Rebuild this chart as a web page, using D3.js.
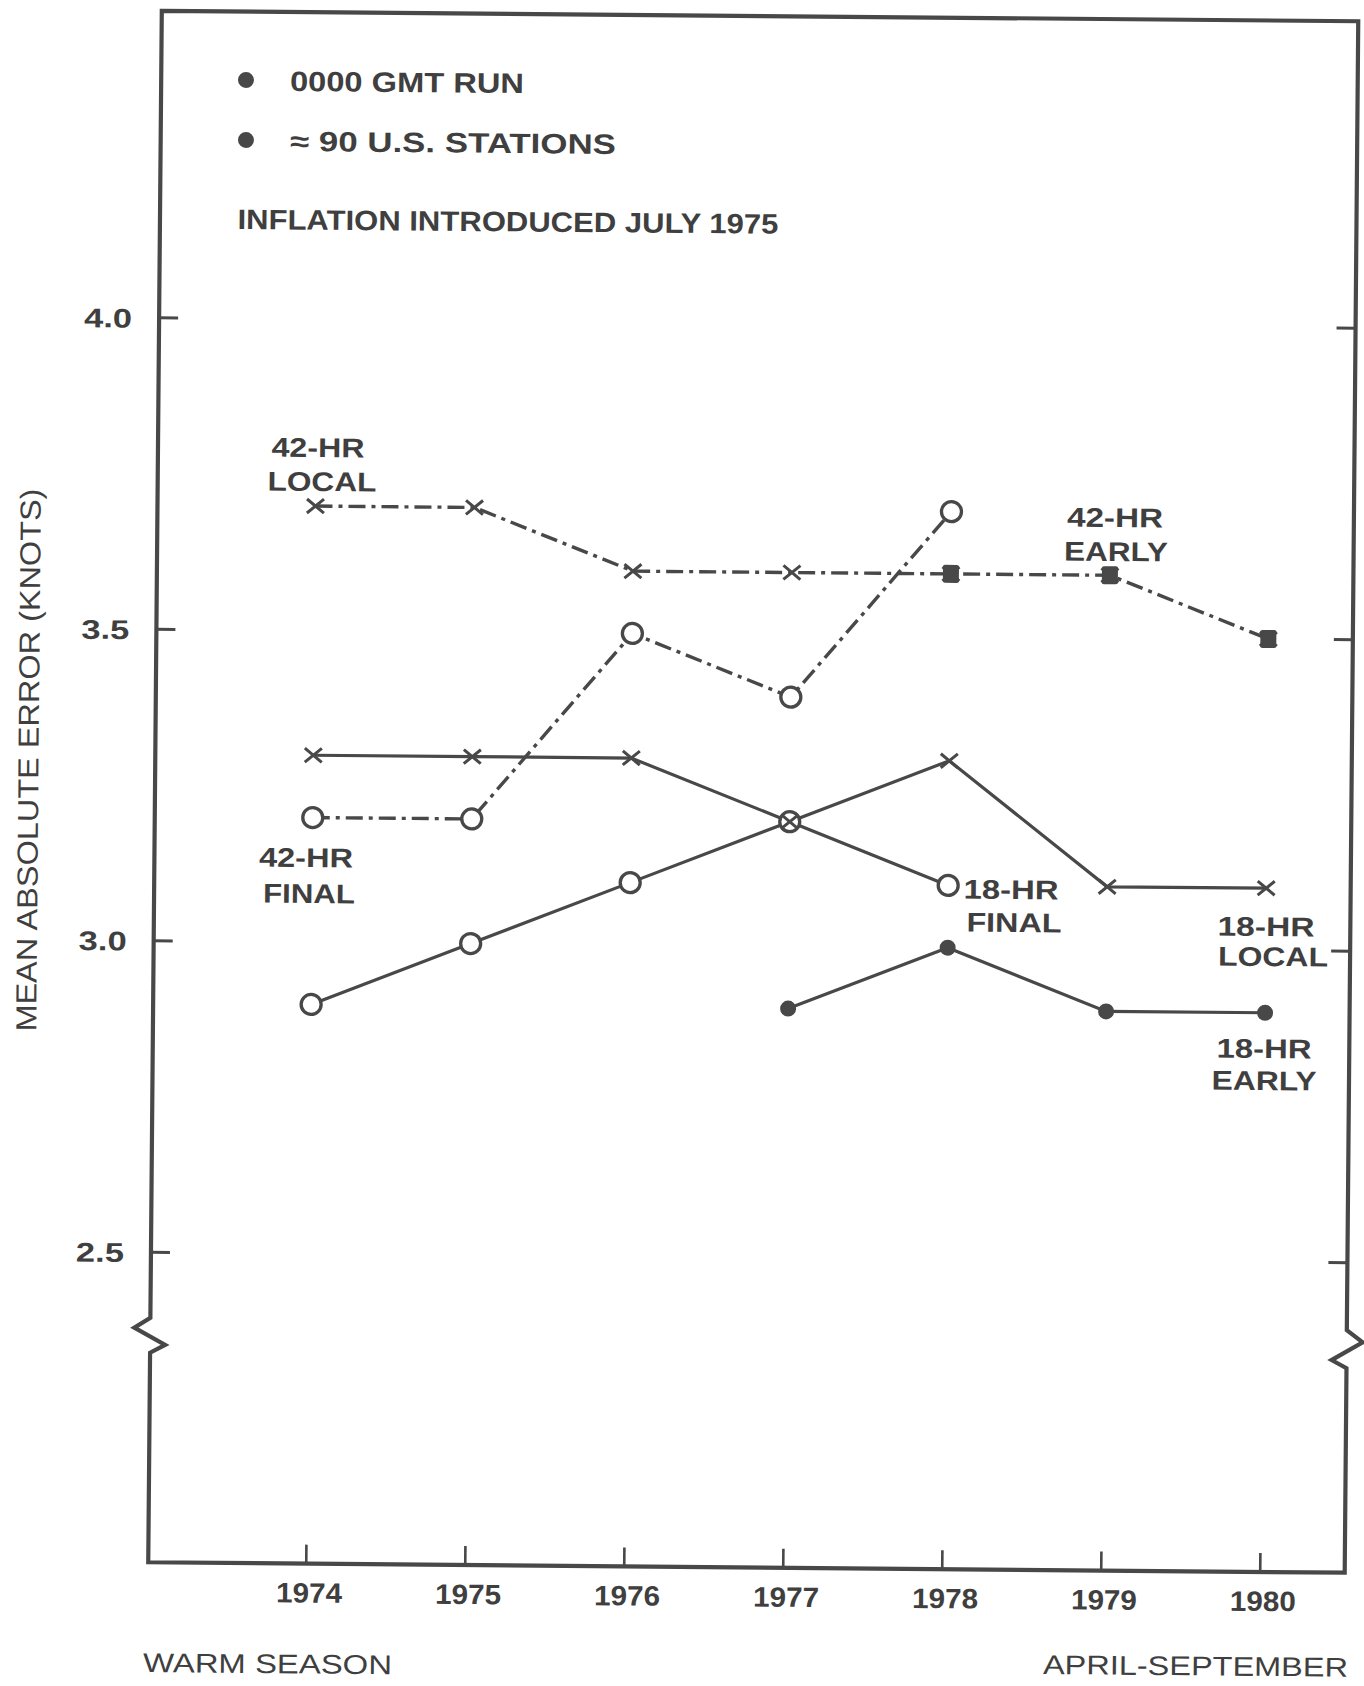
<!DOCTYPE html>
<html><head><meta charset="utf-8">
<script src="https://cdn.jsdelivr.net/npm/d3@7"></script>
<style>html,body{margin:0;padding:0;background:#fff;} svg{display:block;}</style>
</head><body>
<svg id="chart" width="1364" height="1686"></svg>
<script>
// ---------------- DATA ----------------
const years = [1974, 1975, 1976, 1977, 1978, 1979, 1980];
const yTickValues = [2.5, 3.0, 3.5, 4.0];

const local18Years = [1974, 1975, 1976, 1977, 1978, 1979, 1980];
const local18 = [3.3, 3.3, 3.3, 3.2, 3.3, 3.1, 3.1];
const final18Years = [1974, 1975, 1976, 1977, 1978];
const final18 = [2.9, 3.0, 3.1, 3.2, 3.1];
const early18Years = [1977, 1978, 1979, 1980];
const early18 = [2.9, 3.0, 2.9, 2.9];

const local42Years = [1974, 1975, 1976, 1977, 1978, 1979, 1980];
const local42 = [3.7, 3.7, 3.6, 3.6, 3.6, 3.6, 3.5];
const final42Years = [1974, 1975, 1976, 1977, 1978];
const final42 = [3.2, 3.2, 3.5, 3.4, 3.7];
const early42Years = [1978, 1979, 1980];
const early42 = [3.6, 3.6, 3.5];

const legendLines = ["0000 GMT RUN", "\u2248 90 U.S. STATIONS"];
const noteText = "INFLATION INTRODUCED JULY 1975";
const yTitle = "MEAN ABSOLUTE ERROR (KNOTS)";
const footLeft = "WARM SEASON";
const footRight = "APRIL-SEPTEMBER";
const seriesLabels = [
  ["42-HR", "LOCAL"], ["42-HR", "EARLY"], ["42-HR", "FINAL"],
  ["18-HR", "FINAL"], ["18-HR", "LOCAL"], ["18-HR", "EARLY"]
];

// ---------------- LAYOUT ----------------
const INK = "#484848", TXT = "#3f3f3f";
const FONT = "'Liberation Sans', Arial, Helvetica, sans-serif";
const ROT = 0.5, CX = 753.5, CY = 791.75;       // scan skew
const L = 155, R = 1351.5, T = 16, B = 1567.5;   // frame (unrotated)
function toFrame(px, py) {
  const a = ROT * Math.PI / 180, dx = px - CX, dy = py - CY;
  return [CX + dx * Math.cos(a) + dy * Math.sin(a), CY - dx * Math.sin(a) + dy * Math.cos(a)];
}
// label centres measured on the page, with text widths
const labelPos = [
  [[318, 447, 93], [322, 481, 109]],
  [[1115, 517, 96], [1116, 551, 104]],
  [[306, 857, 94], [309, 893, 92]],
  [[1011, 889, 95], [1014, 922, 95]],
  [[1266, 926, 97], [1273, 956, 110]],
  [[1264, 1048, 95], [1264, 1080, 105]]
];

const svg = d3.select("#chart");
svg.append("rect").attr("width", 1364).attr("height", 1686).attr("fill", "#fff");
const g = svg.append("g").attr("transform", `rotate(${ROT},${CX},${CY})`);

const x = d3.scaleLinear().domain([1974, 1980]).range([313, 1267]);
const y = d3.scaleLinear().domain([2.5, 4.0]).range([1257.5, 323]);

// ---------------- FRAME ----------------
const framePath = `M${L},${T}H${R}V1325L${R + 16},1337L${R - 15},1355L${R},1363V${B}H${L}V1358L${L + 15},1350L${L - 16},1333L${L},1323Z`;
g.append("path").attr("d", framePath).attr("fill", "none")
  .attr("stroke", INK).attr("stroke-width", 4.2).attr("stroke-linejoin", "miter");

// y ticks left/right
g.selectAll(".ytl").data(yTickValues).join("line")
  .attr("x1", L).attr("x2", L + 19).attr("y1", d => y(d)).attr("y2", d => y(d))
  .attr("stroke", INK).attr("stroke-width", 3);
g.selectAll(".ytr").data(yTickValues).join("line")
  .attr("x1", R).attr("x2", R - 19).attr("y1", d => y(d)).attr("y2", d => y(d))
  .attr("stroke", INK).attr("stroke-width", 3);
g.selectAll(".ytxt").data(yTickValues).join("text")
  .attr("x", L - 27).attr("y", d => y(d) + 10)
  .attr("text-anchor", "end").attr("font-family", FONT).attr("font-weight", "bold")
  .attr("font-size", 27).attr("fill", TXT)
  .attr("textLength", 48).attr("lengthAdjust", "spacingAndGlyphs")
  .text(d => d.toFixed(1));

// x ticks
g.selectAll(".xt").data(years).join("line")
  .attr("x1", d => x(d)).attr("x2", d => x(d)).attr("y1", B).attr("y2", B - 19)
  .attr("stroke", INK).attr("stroke-width", 2.6);
g.selectAll(".xtxt").data(years).join("text")
  .attr("x", d => x(d) + 3).attr("y", B + 39)
  .attr("text-anchor", "middle").attr("font-family", FONT).attr("font-weight", "bold")
  .attr("font-size", 28).attr("fill", TXT)
  .attr("textLength", 66).attr("lengthAdjust", "spacingAndGlyphs")
  .text(d => d);

// ---------------- SERIES ----------------
function pts(ys, vs) { return ys.map((yr, i) => ({ year: yr, v: vs[i] })); }
const line = d3.line().x(d => x(d.year)).y(d => y(d.v));
const DASHDOT = "17,6,4,6";

const s42L = pts(local42Years, local42), s42F = pts(final42Years, final42), s42E = pts(early42Years, early42);
const s18L = pts(local18Years, local18), s18F = pts(final18Years, final18), s18E = pts(early18Years, early18);

[s42L, s42F].forEach(s => g.append("path").attr("d", line(s)).attr("fill", "none")
  .attr("stroke", INK).attr("stroke-width", 3.4).attr("stroke-dasharray", DASHDOT));
[s18L, s18F, s18E].forEach(s => g.append("path").attr("d", line(s)).attr("fill", "none")
  .attr("stroke", INK).attr("stroke-width", 3.2));

// open circles (FINAL)
[s42F, s18F].forEach(s => g.append("g").selectAll("circle").data(s).join("circle")
  .attr("cx", d => x(d.year)).attr("cy", d => y(d.v)).attr("r", 10)
  .attr("fill", "#fff").attr("stroke", INK).attr("stroke-width", 3.3));
// filled dots (18-HR EARLY)
g.append("g").selectAll("circle").data(s18E).join("circle")
  .attr("cx", d => x(d.year)).attr("cy", d => y(d.v)).attr("r", 8).attr("fill", INK);
// filled squares (42-HR EARLY)
g.append("g").selectAll("rect").data(s42E).join("rect")
  .attr("x", d => x(d.year) - 8).attr("y", d => y(d.v) - 9).attr("width", 16).attr("height", 18)
  .attr("rx", 2).attr("fill", INK);
// x markers (LOCAL)
const xm = "M-8.5,-7L8.5,7M-8.5,7L8.5,-7";
[s42L, s18L].forEach(s => g.append("g").selectAll("path").data(s).join("path")
  .attr("transform", d => `translate(${x(d.year)},${y(d.v)})`).attr("d", xm)
  .attr("fill", "none").attr("stroke", INK).attr("stroke-width", 3));

// ---------------- TEXT ----------------
function addText(str, px, py, opts) {
  const [fx, fy] = toFrame(px, py);
  const t = g.append("text").attr("x", fx).attr("y", fy + (opts.dy || 10))
    .attr("font-family", FONT).attr("font-size", opts.size || 27)
    .attr("font-weight", opts.weight || "bold").attr("fill", TXT)
    .attr("text-anchor", opts.anchor || "start").text(str);
  if (opts.w) t.attr("textLength", opts.w).attr("lengthAdjust", "spacingAndGlyphs");
  return t;
}
// legend
[[246, 80], [246, 140]].forEach(([px, py]) => {
  const [fx, fy] = toFrame(px, py);
  g.append("circle").attr("cx", fx).attr("cy", fy).attr("r", 8).attr("fill", INK);
});
addText(legendLines[0], 290, 81, { w: 234, size: 28 });
addText(legendLines[1], 290, 141, { w: 326, size: 28 });
addText(noteText, 237.5, 219, { w: 541, size: 28 });

// series labels
seriesLabels.forEach((lines, i) => lines.forEach((s, j) => {
  const [px, py, w] = labelPos[i][j];
  addText(s, px, py, { w: w, anchor: "middle", size: 27 });
}));

// axis title
{
  const [fx, fy] = toFrame(28.5, 760);
  g.append("text").attr("transform", `translate(${fx + 10},${fy}) rotate(-90)`)
    .attr("text-anchor", "middle").attr("font-family", FONT).attr("font-size", 29)
    .attr("fill", TXT).attr("textLength", 543).attr("lengthAdjust", "spacingAndGlyphs")
    .text(yTitle);
}
// footers
addText(footLeft, 143, 1662, { w: 249, size: 27, weight: "normal" });
addText(footRight, 1043, 1664, { w: 305, size: 27, weight: "normal" });
</script>
</body></html>
